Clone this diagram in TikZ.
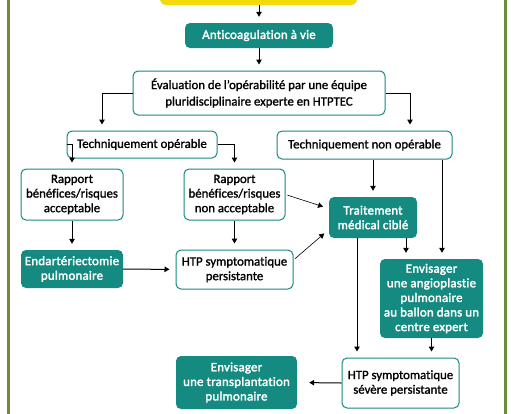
\documentclass[tikz,border=0pt]{standalone}
\usepackage{fontspec}
\setmainfont{Carlito}
\newfontfamily\medfont[FakeBold=1.3,Ligatures=NoCommon]{Carlito}
\newfontfamily\boldfont[FakeBold=2.4,Ligatures=NoCommon,LetterSpace=2]{Carlito}
\usetikzlibrary{arrows.meta,calc}
\definecolor{tealc}{HTML}{148A80}
\definecolor{framec}{HTML}{6E8B3D}
\definecolor{yel}{HTML}{F5D90A}
\tikzset{
  base/.style={align=center, rounded corners=5pt, inner sep=2pt},
  tealbox/.style={base, fill=tealc, text=white, font=\boldfont\fontsize{12.8}{14.6}\selectfont},
  wbox/.style={base, draw=tealc, line width=1pt, fill=white, font=\medfont\fontsize{12.8}{14.6}\selectfont},
  arr/.style={-{Triangle[length=5pt,width=5.5pt]}, line width=1pt, shorten >=6pt},
  thinarr/.style={-{Triangle[length=5pt,width=5.5pt]}, line width=0.6pt, shorten >=6pt, shorten <=2pt}
}
\begin{document}
\begin{tikzpicture}[x=1pt,y=-1pt]
\useasboundingbox (0,0) rectangle (511,413);
\clip (0,0) rectangle (511,413);
\fill[white] (0,0) rectangle (511,413);
\draw[framec, line width=3pt] (8,-10) rectangle (505,423);
\node[fill=yel, rounded corners=6pt, minimum width=197pt, minimum height=30pt] (yel) at (258.5,-10) {};
\node[tealbox, minimum width=148pt, minimum height=25pt] (anti) at (259,35.5) {Anticoagulation à vie};
\node[wbox, minimum width=252pt, minimum height=44pt, font=\medfont\fontsize{12.8}{16.5}\selectfont] (eval) at (259,93) {Évaluation de l’opérabilité par une équipe\\pluridisciplinaire experte en HTPTEC};
\node[wbox, minimum width=150pt, minimum height=27pt] (to) at (142,144.5) {Techniquement opérable};
\node[wbox, minimum width=175pt, minimum height=28pt] (tno) at (364.5,145) {Techniquement non opérable};
\node[wbox, minimum width=102pt, minimum height=51pt] (ra) at (72,194.5) {Rapport\\bénéfices/risques\\acceptable};
\node[wbox, minimum width=101pt, minimum height=51pt] (rna) at (234.5,194.5) {Rapport\\bénéfices/risques\\non acceptable};
\node[tealbox, minimum width=88pt, minimum height=41pt] (tmc) at (373,217.5) {Traitement\\médical ciblé};
\node[tealbox, minimum width=102pt, minimum height=38pt] (end) at (72,269) {Endartériectomie\\pulmonaire};
\node[wbox, minimum width=117pt, minimum height=39pt] (htp) at (234.5,269.5) {HTP symptomatique\\persistante};
\node[tealbox, minimum width=103pt, minimum height=79pt] (ang) at (431.5,298.5) {Envisager\\une angioplastie\\pulmonaire\\au ballon dans un\\centre expert};
\node[wbox, minimum width=117pt, minimum height=50pt] (sev) at (400.5,383) {HTP symptomatique\\sévère persistante};
\node[tealbox, minimum width=121pt, minimum height=53pt] (trans) at (236.5,382.5) {Envisager\\une transplantation\\pulmonaire};
% connectors
\draw[arr] (yel.south -| anti.north) -- (anti.north);
\draw[arr] (anti) -- (eval);
\draw[arr] (eval.west) -| ([xshift=-40pt]to.north);
\draw[arr] (eval.east) -| ([xshift=45.5pt]tno.north);
\draw[arr] (to.west) -| (ra.north);
\draw[arr] (to.east) -| (rna.north);
\draw[arr] (tmc.north |- tno.south) -- (tmc.north);
\draw[arr] ([xshift=10.5pt]ang.north |- tno.south) -- ([xshift=10.5pt]ang.north);
\draw[thinarr] (rna.east) -- ([yshift=9pt]tmc.west);
\draw[thinarr] ([yshift=9.5pt]htp.east) -- ([yshift=-12pt]tmc.west);
\draw[arr] (ra) -- (end);
\draw[arr] (rna) -- (htp);
\draw[arr] (end) -- (htp);
\draw[arr] ([xshift=-16pt]tmc.south) -- ([xshift=-16pt]tmc.south |- sev.north);
\draw[arr] ([xshift=33pt]tmc.south) -- ([xshift=33pt]tmc.south |- ang.north);
\draw[arr] (ang.south) -- (ang.south |- sev.north);
\draw[arr, shorten >=12pt] (sev.west) -- (trans.east);
\end{tikzpicture}
\end{document}
